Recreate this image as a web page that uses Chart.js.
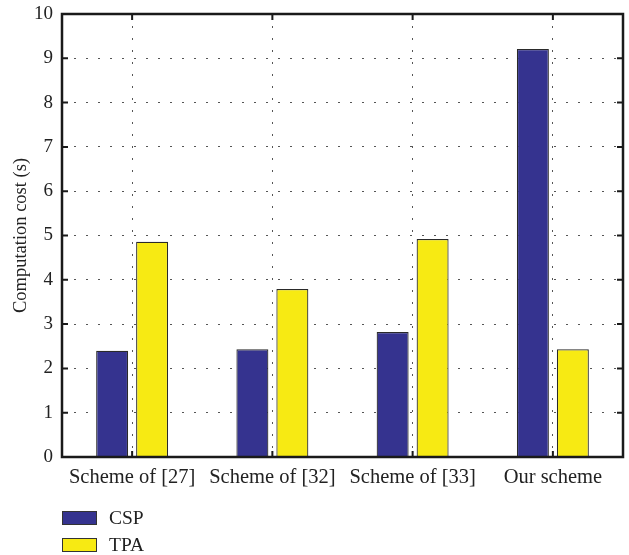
<!DOCTYPE html>
<html>
<head>
<meta charset="utf-8">
<script src="https://cdn.jsdelivr.net/npm/chart.js@4/dist/chart.umd.min.js"></script>
<style>
 body { margin:0; background:#fff; }
 #wrap { position:relative; width:629px; height:555px; }
 #legend { position:absolute; left:62px; top:504px; font-family:"Liberation Serif", serif; font-size:19.5px; color:#222; }
 .item { display:flex; align-items:center; height:27px; }
 .box { width:33px; height:12px; border:1.5px solid #333; margin-right:12px; }
</style>
</head>
<body>
<div id="wrap">
 <canvas id="chart" width="629" height="555"></canvas>
 <div id="legend"></div>
</div>
<script>
// Data
var categories = ["Scheme of [27]", "Scheme of [32]", "Scheme of [33]", "Our scheme"];
var cspValues = [2.4, 2.43, 2.82, 9.21];
var tpaValues = [4.86, 3.79, 4.92, 2.43];
var yTicks = [0,1,2,3,4,5,6,7,8,9,10];

var seriesNames = ["CSP", "TPA"];
var seriesColors = ["#35338f", "#f7ea13"];

// Frame box with inward ticks, like the original plot
var framePlugin = {
 id: 'frame',
 afterDatasetsDraw: function(chart) {
  var c = chart.ctx, a = chart.chartArea;
  var xs = chart.scales.x, ys = chart.scales.y;
  c.save();
  c.strokeStyle = '#1a1a1a';
  c.lineWidth = 2;
  c.beginPath();
  yTicks.forEach(function(v) {
   var y = ys.getPixelForValue(v);
   c.moveTo(a.left, y); c.lineTo(a.left + 6, y);
   c.moveTo(a.right, y); c.lineTo(a.right - 6, y);
  });
  categories.forEach(function(cat, i) {
   var x = xs.getPixelForValue(i);
   c.moveTo(x, a.top); c.lineTo(x, a.top + 6);
   c.moveTo(x, a.bottom); c.lineTo(x, a.bottom - 6);
  });
  c.stroke();
  c.lineWidth = 2.5;
  c.strokeRect(a.left, a.top, a.right - a.left, a.bottom - a.top);
  c.restore();
 }
};

var serif = '"Liberation Serif", serif';

var chart = new Chart(document.getElementById('chart'), {
 type: 'bar',
 data: {
  labels: categories,
  datasets: [
   { label: seriesNames[0], data: cspValues, backgroundColor: seriesColors[0], borderColor: '#2a2a2a', borderWidth: 1.2 },
   { label: seriesNames[1], data: tpaValues, backgroundColor: seriesColors[1], borderColor: '#2a2a2a', borderWidth: 1.2 }
  ]
 },
 options: {
  responsive: false,
  animation: false,
  categoryPercentage: 0.57,
  barPercentage: 0.8,
  layout: { padding: { top: 14, right: 6, bottom: 0, left: 0 } },
  plugins: { legend: { display: false }, tooltip: { enabled: false } },
  scales: {
   x: {
    afterFit: function(s) { s.height = 98; s.paddingLeft = 0; s.paddingRight = 0; },
    grid: { offset: false, drawTicks: false, color: '#555', lineWidth: 1 },
    border: { display: false, dash: [2, 10] },
    ticks: { color: '#222', padding: 8, font: { family: serif, size: 20.5 } }
   },
   y: {
    min: 0, max: 10,
    afterFit: function(s) { s.width = 62; s.paddingTop = 0; s.paddingBottom = 0; },
    grid: { drawTicks: false, color: '#555', lineWidth: 1 },
    border: { display: false, dash: [2, 10] },
    ticks: { stepSize: 1, color: '#222', padding: 9, font: { family: serif, size: 19 } },
    title: { display: true, text: 'Computation cost (s)', color: '#222', padding: { top: 10, bottom: 0 }, font: { family: serif, size: 18.5 } }
   }
  }
 },
 plugins: [framePlugin]
});

// Legend stacked vertically under the plot
var legend = document.getElementById('legend');
seriesNames.forEach(function(name, i) {
 var item = document.createElement('div');
 item.className = 'item';
 var box = document.createElement('span');
 box.className = 'box';
 box.style.background = seriesColors[i];
 var txt = document.createElement('span');
 txt.textContent = name;
 item.appendChild(box);
 item.appendChild(txt);
 legend.appendChild(item);
});
</script>
</body>
</html>
